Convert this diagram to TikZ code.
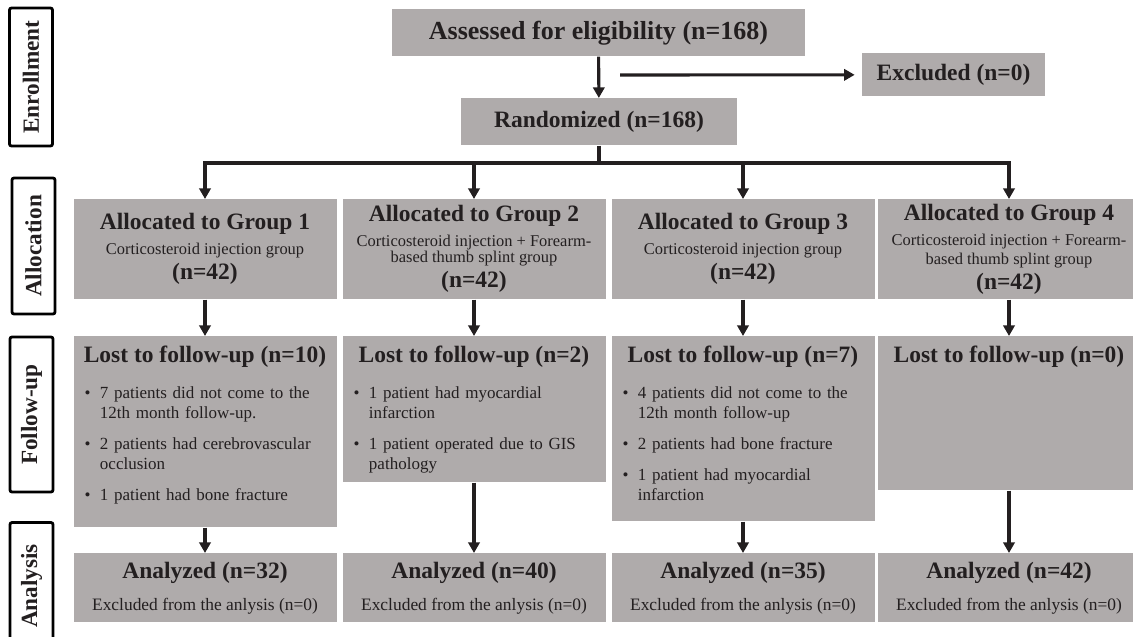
\documentclass[tikz,border=0pt]{standalone}
\usepackage{fontspec}
\setmainfont{Liberation Serif}
\usetikzlibrary{arrows.meta,calc}

\definecolor{boxgray}{RGB}{175,171,171}
\definecolor{ink}{RGB}{35,31,32}

\newcommand{\titlefont}{\fontsize{18.5}{22}\selectfont\bfseries}
\newcommand{\headfont}{\fontsize{16.7}{17.8}\selectfont\bfseries}
\newcommand{\subfont}{\fontsize{11.7}{13}\selectfont\mdseries}
\newcommand{\notefont}{\fontsize{12.4}{14}\selectfont\mdseries}
\newcommand{\lossfont}{\fontsize{12.1}{14.2}\selectfont}
\newcommand{\sidefont}{\fontsize{16.5}{18}\selectfont\bfseries}

%bullet item for the follow-up boxes
\newcommand{\lossitem}[1]{\par\hangindent=11pt\hangafter=1\noindent\makebox[11pt][l]{\textbullet}#1\par\vspace{7.8pt}}

\begin{document}
\begin{tikzpicture}[x=0.025cm, y=-0.025cm,
  every node/.style={text=ink},
  gbox/.style 2 args={fill=boxgray, inner sep=0pt, anchor=north, align=center,
    minimum width={#1*0.025cm}, minimum height={#2*0.025cm}},
  side/.style={draw=black, fill=white, line width=2pt, rounded corners=1.5pt,
    rotate=90, inner sep=0pt, font=\sidefont,
    minimum height={43*0.025cm}, minimum width={#1*0.025cm}},
  line/.style={draw=ink, line width=2.2pt},
  arr/.style={line, -{Triangle[length=7.5pt,width=8pt]}}]

\useasboundingbox (0,0) rectangle (1133,637);

% stage labels
\node[side=138] (lblenr) at (31,77) {Enrollment};
\node[side=136] (lblalloc) at (33.5,246) {Allocation};
\node[side=155] (lblfollow) at (31.5,414.5) {Follow-up};
\node[side=127] (lblanalysis) at (31.5,586) {Analysis};

% enrollment
\node[gbox={413}{47}, font=\titlefont] (assess) at (598.5,9) {Assessed for eligibility (n=168)};
\node[gbox={183}{43}, font=\headfont] (excl) at (953.5,53) {Excluded (n=0)};
\node[gbox={276}{47}, font=\headfont] (rand) at (599,98) {Randomized (n=168)};
\coordinate (exstart) at (620,75);
\coordinate (split) at (599,163);

% allocation
\node[gbox={263}{100}, font=\headfont] (alloc1) at (205,199)
  {Allocated to Group 1\\{\subfont Corticosteroid injection group}\\(n=42)};
\node[gbox={263}{100}, font=\headfont] (alloc2) at (474,199)
  {Allocated to Group 2\\{\subfont Corticosteroid injection + Forearm-}\\[-6.4pt]{\subfont based thumb splint group}\\(n=42)};
\node[gbox={263}{100}, font=\headfont] (alloc3) at (743,199)
  {Allocated to Group 3\\{\subfont Corticosteroid injection group}\\(n=42)};
\node[gbox={263}{100}, font=\headfont] (alloc4) at (1009,199)
  {Allocated to Group 4\\{\subfont Corticosteroid injection + Forearm-}\\[-4pt]{\subfont based thumb splint group}\\(n=42)};

% follow-up
\node[gbox={263}{191}] (fu1) at (205,336) {};
\node[gbox={263}{146}] (fu2) at (474,336) {};
\node[gbox={263}{185}] (fu3) at (743,336) {};
\node[gbox={263}{154}] (fu4) at (1009,336) {};

\node[font=\headfont] (fu1t) at ($(fu1.north)+(0,21)$) {Lost to follow-up (n=10)};
\node[font=\headfont] (fu2t) at ($(fu2.north)+(0,21)$) {Lost to follow-up (n=2)};
\node[font=\headfont] (fu3t) at ($(fu3.north)+(0,21)$) {Lost to follow-up (n=7)};
\node[font=\headfont] (fu4t) at ($(fu4.north)+(0,21)$) {Lost to follow-up (n=0)};

\tikzset{losslist/.style={anchor=north west, text width=5.9cm, align=left, font=\lossfont, inner sep=0pt}}
\node[losslist] (fu1l) at ($(fu1.north west)+(11,42)$) {%
  \lossitem{7 patients did not come to the\newline 12th month follow-up.}%
  \lossitem{2 patients had cerebrovascular\newline occlusion}%
  \lossitem{1 patient had bone fracture}};
\node[losslist] (fu2l) at ($(fu2.north west)+(11,42)$) {%
  \lossitem{1 patient had myocardial\newline infarction}%
  \lossitem{1 patient operated due to GIS\newline pathology}};
\node[losslist] (fu3l) at ($(fu3.north west)+(11,42)$) {%
  \lossitem{4 patients did not come to the\newline 12th month follow-up}%
  \lossitem{2 patients had bone fracture}%
  \lossitem{1 patient had myocardial\newline infarction}};

% analysis
\node[gbox={263}{69}, font=\headfont] (an1) at (205,553) {Analyzed (n=32)\\[5pt]{\notefont Excluded from the anlysis (n=0)}};
\node[gbox={263}{69}, font=\headfont] (an2) at (474,553) {Analyzed (n=40)\\[5pt]{\notefont Excluded from the anlysis (n=0)}};
\node[gbox={263}{69}, font=\headfont] (an3) at (743,553) {Analyzed (n=35)\\[5pt]{\notefont Excluded from the anlysis (n=0)}};
\node[gbox={263}{69}, font=\headfont] (an4) at (1009,553) {Analyzed (n=42)\\[5pt]{\notefont Excluded from the anlysis (n=0)}};

% connectors
\draw[arr] (assess) -- (rand);
\draw[arr, shorten >=5pt] (exstart) -- (excl);
\draw[line] (rand) -- (split);
\draw[arr] (split) -| (alloc1);
\draw[arr] (split) -| (alloc4);
\foreach \i in {2,3}
  \draw[arr] (split -| alloc\i) -- (alloc\i);
\foreach \i in {1,...,4} {
  \draw[arr] (alloc\i) -- (fu\i);
  \draw[arr] (fu\i) -- (an\i);
}

\end{tikzpicture}
\end{document}
